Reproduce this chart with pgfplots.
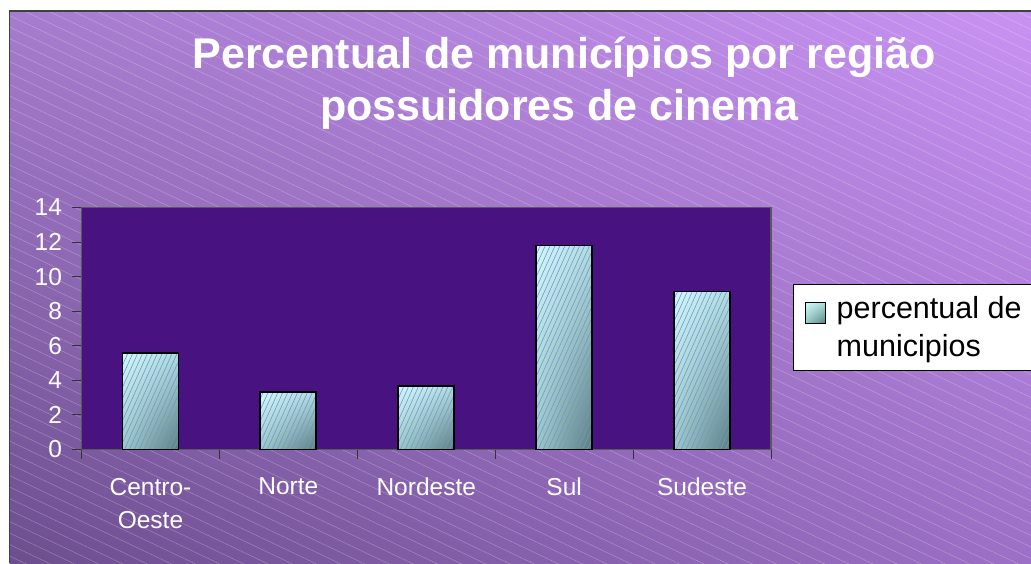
\documentclass[border=0pt]{standalone}
\usepackage{pgfplots}
\pgfplotsset{compat=1.18}
\usepackage{fontspec}
\setmainfont{Liberation Sans}
\usetikzlibrary{patterns.meta,shadings}

\definecolor{bgUL}{RGB}{166,124,206}
\definecolor{bgUR}{RGB}{200,146,242}
\definecolor{bgLL}{RGB}{108,78,142}
\definecolor{bgLR}{RGB}{156,112,198}
\definecolor{plotpurple}{RGB}{72,18,128}
\definecolor{barUL}{RGB}{208,250,250}
\definecolor{barUR}{RGB}{172,222,222}
\definecolor{barLL}{RGB}{152,202,200}
\definecolor{barLR}{RGB}{88,128,124}
\definecolor{hatchc}{RGB}{130,140,215}

\pgfplotsset{
  barbase/.style={ybar, bar width=56pt, bar shift=0pt},
  barsty/.style={
    barbase, draw=none,
    upper left=barUL, upper right=barUR, lower left=barLL, lower right=barLR,
    legend image code/.code={
      \path (0pt,0pt);
      \draw[black, line width=1.2pt, upper left=barUL, upper right=barUR, lower left=barLL, lower right=barLR] (0pt,4pt) rectangle (20pt,25pt);
    },
  },
}

\begin{document}
\begin{tikzpicture}[x=1pt,y=1pt]
\fill[white] (0,0) rectangle (1031,563);
\shade[upper left=bgUL, upper right=bgUR, lower left=bgLL, lower right=bgLR] (9.5,0) rectangle (1031,552);
\begin{scope}
  \clip (9.5,0) rectangle (1031,552);
  \foreach \c in {0,11.5,...,1100} {
    \draw[white, opacity=0.28, line width=0.5pt] (0,\c) -- (1031,\c-490);
  }
\end{scope}
\draw[black!75, line width=1.5pt] (9.5,0) -- (9.5,552) -- (1031,552);

\node[anchor=base, text=white, font=\fontsize{43}{52}\selectfont\bfseries] at (564,494) {Percentual de municípios por região};
\node[anchor=base, text=white, font=\fontsize{43}{52}\selectfont\bfseries] at (559,442) {possuidores de cinema};

\begin{axis}[
  at={(81.5pt,113.5pt)}, anchor=south west,
  scale only axis, width=689.5pt, height=242pt,
  xmin=-0.5, xmax=4.5, ymin=0, ymax=14,
  axis background/.style={fill=plotpurple},
  axis line style={draw=gray!70!black, line width=1.3pt},
  tick pos=left,
  xtick={0,1,2,3,4},
  xticklabels={{Centro-\\Oeste},Norte,Nordeste,Sul,Sudeste},
  xtick style={draw=none},
  extra x ticks={-0.5,0.5,1.5,2.5,3.5,4.5},
  extra x tick labels={},
  extra x tick style={xtick style={draw=black!80, line width=1pt}},
  ytick={0,2,...,14},
  ytick style={draw=black!80, line width=1pt},
  tick align=outside, major tick length=9pt,
  /pgf/number format/assume math mode=true,
  every tick label/.append style={text=white, font=\fontsize{24.5}{33}\selectfont},
  xticklabel style={align=center, yshift=-16pt},
  yticklabel style={xshift=-7pt},
  legend style={at={(axis description cs:1.0319,0.6839)}, anchor=north west,
    draw=black, line width=1pt, fill=white, text=black,
    font=\fontsize{30.5}{38}\selectfont, inner xsep=11pt, inner ysep=10pt,
    cells={align=left, anchor=west},
    /tikz/every odd column/.append style={column sep=9pt}},
  legend cell align=left,
  clip=false,
]
\addplot[barsty] coordinates {(0,5.6)};
\addlegendentry{percentual de\\municipios}
\addplot[barsty, forget plot] coordinates {(1,3.33)};
\addplot[barsty, forget plot] coordinates {(2,3.68)};
\addplot[barsty, forget plot] coordinates {(3,11.8)};
\addplot[barsty, forget plot] coordinates {(4,9.14)};
% hatching over the bars
\addplot[barbase, draw=none, forget plot,
  pattern={Lines[angle=66,distance=4.5pt,line width=0.6pt]}, pattern color=hatchc]
  coordinates {(0,5.6) (1,3.33) (2,3.68) (3,11.8) (4,9.14)};
% outlines
\addplot[barbase, draw=black, line width=1.8pt, fill=none, forget plot]
  coordinates {(0,5.6) (1,3.33) (2,3.68) (3,11.8) (4,9.14)};
\end{axis}
\pgfresetboundingbox
\path[use as bounding box] (0,0) rectangle (1031,563);
\end{tikzpicture}
\end{document}
